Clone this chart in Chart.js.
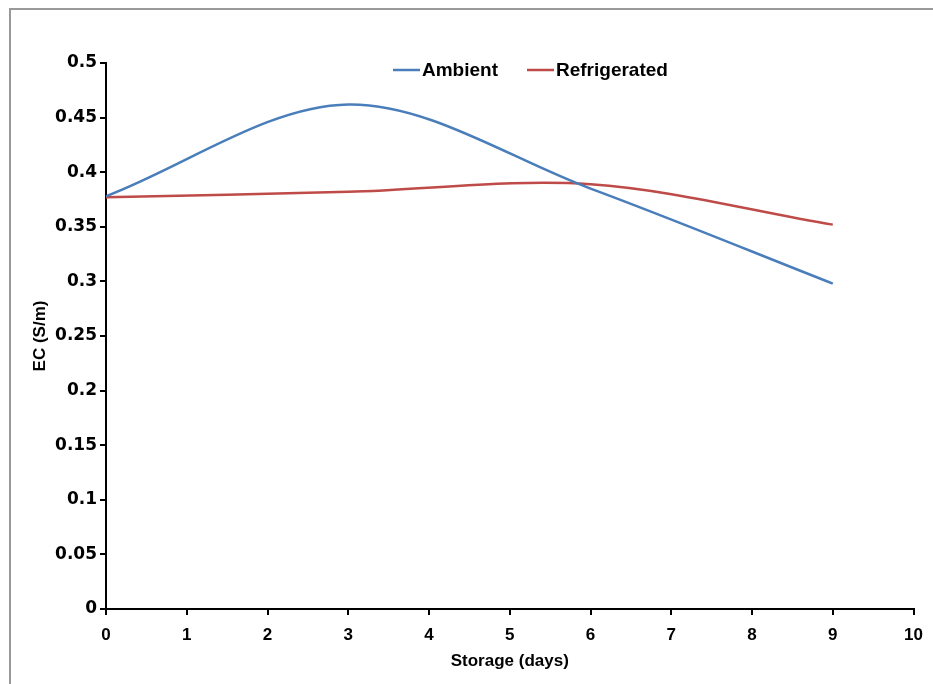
<!DOCTYPE html>
<html>
<head>
<meta charset="utf-8">
<script src="https://cdn.jsdelivr.net/npm/chart.js@4/dist/chart.umd.min.js"></script>
<style>
  html, body { margin: 0; padding: 0; background: #fff; }
  #wrap { position: relative; width: 933px; height: 684px; }
  #frame { position: absolute; left: 9px; top: 8px; right: 0; bottom: 0;
           border-top: 2px solid #999; border-left: 2px solid #999; }
  #wrap canvas { position: absolute; left: 0; top: 0; }
</style>
</head>
<body>
<div id="wrap">
  <div id="frame"></div>
  <canvas id="ecChart" width="933" height="684"></canvas>
</div>
<script>
// storage time (days) and measured EC (S/m)
const days = [0, 3, 6, 9];
const ambient = [0.378, 0.462, 0.385, 0.298];
const refrigerated = [0.377, 0.382, 0.389, 0.352];

const seriesNames = ["Ambient", "Refrigerated"];
const lineColors = ["#4a7ebb", "#be4b48"];

// y ticks every 0.05, x ticks every day
const yTicks = [0, 0.05, 0.1, 0.15, 0.2, 0.25, 0.3, 0.35, 0.4, 0.45, 0.5];

function points(values) {
  return days.map((d, i) => ({ x: d, y: values[i] }));
}

// legend drawn inside the plot, like the Excel original
const topLegend = {
  id: 'topLegend',
  afterDraw(chart) {
    const ctx = chart.ctx;
    ctx.save();
    ctx.font = 'bold 19px "Liberation Sans", Arial, sans-serif';
    ctx.textBaseline = 'middle';
    let x = 393;
    const y = 70;
    chart.data.datasets.forEach(ds => {
      ctx.strokeStyle = ds.borderColor;
      ctx.lineWidth = 2.5;
      ctx.beginPath();
      ctx.moveTo(x, y);
      ctx.lineTo(x + 27, y);
      ctx.stroke();
      ctx.fillStyle = '#000';
      ctx.fillText(ds.label, x + 29, y + 1);
      x += 29 + ctx.measureText(ds.label).width + 29;
    });
    ctx.restore();
  }
};

new Chart(document.getElementById('ecChart'), {
  type: 'line',
  data: {
    datasets: [
      {
        label: seriesNames[0],
        data: points(ambient),
        borderColor: lineColors[0],
        borderWidth: 2.5,
        pointRadius: 0,
        tension: 0.33,
        fill: false
      },
      {
        label: seriesNames[1],
        data: points(refrigerated),
        borderColor: lineColors[1],
        borderWidth: 2.5,
        pointRadius: 0,
        tension: 0.33,
        fill: false
      }
    ]
  },
  options: {
    responsive: false,
    animation: false,
    layout: { padding: { top: 63, right: 19, left: 0, bottom: 0 } },
    plugins: {
      legend: { display: false },
      tooltip: { enabled: false }
    },
    scales: {
      x: {
        type: 'linear',
        min: 0,
        max: 10,
        ticks: {
          stepSize: 1,
          color: '#000',
          padding: 10,
          maxRotation: 0,
          font: { family: '"Liberation Sans", Arial, sans-serif', size: 17, weight: 'bold' }
        },
        grid: { drawOnChartArea: false, drawTicks: true, tickLength: 6, color: '#000', lineWidth: 2 },
        border: { color: '#000', width: 2 },
        title: {
          display: true,
          text: 'Storage (days)',
          color: '#000',
          padding: { top: 2, bottom: 12 },
          font: { family: '"Liberation Sans", Arial, sans-serif', size: 17, weight: 'bold' }
        },
        afterFit(scale) { scale.height = 75; }
      },
      y: {
        min: 0,
        max: 0.5,
        afterBuildTicks(scale) { scale.ticks = yTicks.map(v => ({ value: v })); },
        ticks: {
          color: '#000',
          padding: 3,
          callback: v => String(parseFloat(v.toFixed(2))),
          font: { family: '"DejaVu Sans", sans-serif', size: 17, weight: 'bold' }
        },
        grid: { drawOnChartArea: false, drawTicks: true, tickLength: 6, color: '#000', lineWidth: 2 },
        border: { color: '#000', width: 2 },
        title: {
          display: true,
          text: 'EC (S/m)',
          color: '#000',
          padding: { top: 30, bottom: 0 },
          font: { family: '"Liberation Sans", Arial, sans-serif', size: 17, weight: 'bold' }
        },
        afterFit(scale) { scale.width = 106; }
      }
    }
  },
  plugins: [topLegend]
});
</script>
</body>
</html>
